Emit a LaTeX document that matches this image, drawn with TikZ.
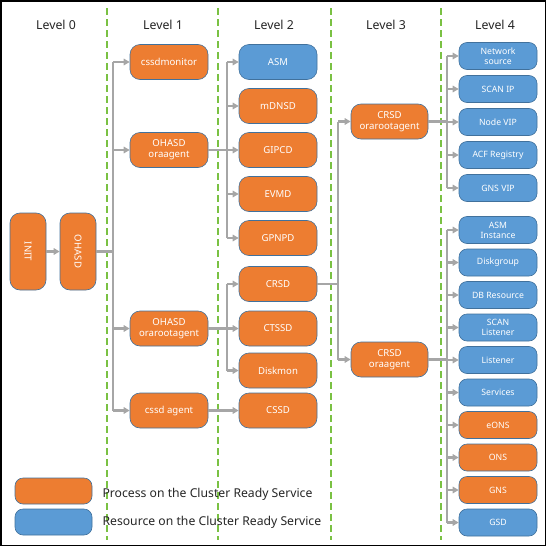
\documentclass[tikz,border=0pt]{standalone}
\usepackage{fontspec}
\setmainfont{Noto Sans}
\usetikzlibrary{arrows.meta}
\definecolor{orng}{HTML}{ED7D31}
\definecolor{blu}{HTML}{5B9BD5}
\definecolor{edgec}{HTML}{41719C}
\definecolor{connc}{HTML}{A6A6A6}
\definecolor{grn}{HTML}{7AC143}
\begin{document}
\begin{tikzpicture}[x=1pt,y=-1pt,
 box/.style={draw=edgec, line width=0.6pt, rounded corners=10pt, text=white, align=center, inner sep=1pt, font=\fontsize{9.6}{11}\selectfont},
 proc/.style={box, fill=orng},
 res/.style={box, fill=blu},
 lz/.style={minimum width=36pt, minimum height=77pt},
 lm/.style={minimum width=78pt, minimum height=35pt},
 lf/.style={minimum width=78pt, minimum height=27pt, rounded corners=8pt, font=\fontsize{8.7}{10}\selectfont},
 conline/.style={draw=connc, line width=2.2pt},
 arr/.style={conline, -{Triangle[length=6pt,width=6.5pt]}},
 sepline/.style={draw=grn, line width=2.2pt, dash pattern=on 7pt off 4pt},
 hdr/.style={font=\fontsize{12.3}{14}\selectfont, text=black!85},
 legtext/.style={anchor=west, font=\fontsize{12.2}{14}\selectfont, text=black!85}
]
\useasboundingbox (0,0) rectangle (546,546);
\draw[black, line width=1.5pt] (0.75,0.75) rectangle (545.25,545.25);

% separators
\foreach \x in {107,218,331,441} \draw[sepline] (\x,8) -- (\x,540);

% headers
\node[hdr] (h0) at (56,25) {Level 0};
\node[hdr] (h1) at (163,25) {Level 1};
\node[hdr] (h2) at (274,25) {Level 2};
\node[hdr] (h3) at (386,25) {Level 3};
\node[hdr] (h4) at (495,25) {Level 4};

% level 0
\node[proc, lz] (init) at (28,251.5) {};
\node[text=white, rotate=-90, font=\fontsize{9.6}{11}\selectfont] (initt) at (init) {INIT};
\node[proc, lz] (ohasd) at (78,251.5) {};
\node[text=white, rotate=-90, font=\fontsize{9.6}{11}\selectfont] (ohasdt) at (ohasd) {OHASD};

% level 1
\node[proc, lm] (cssdmon) at (169,62) {cssdmonitor};
\node[proc, lm] (ohora) at (169,150) {OHASD\\oraagent};
\node[proc, lm] (ohroot) at (169,328.5) {OHASD\\orarootagent};
\node[proc, lm] (cssdag) at (169,410.5) {cssd agent};

% level 2
\node[res, lm] (asm) at (278,62) {ASM};
\node[proc, lm] (mdnsd) at (278,106) {mDNSD};
\node[proc, lm] (gipcd) at (278,150) {GIPCD};
\node[proc, lm] (evmd) at (278,194) {EVMD};
\node[proc, lm] (gpnpd) at (278,238) {GPNPD};
\node[proc, lm] (crsd) at (278,284) {CRSD};
\node[proc, lm] (ctssd) at (278,328.5) {CTSSD};
\node[proc, lm] (diskmon) at (278,370.5) {Diskmon};
\node[proc, lm] (cssd) at (278,410.5) {CSSD};

% level 3
\node[proc, lm, minimum width=77pt] (crsdroot) at (389.5,121.5) {CRSD\\orarootagent};
\node[proc, lm, minimum width=77pt] (crsdora) at (389.5,359.5) {CRSD\\oraagent};

% level 4
\node[res, lf] (netsrc) at (498,56) {Network\\source};
\node[res, lf] (scanip) at (498,89) {SCAN IP};
\node[res, lf] (nodevip) at (498,122) {Node VIP};
\node[res, lf] (acf) at (498,155) {ACF Registry};
\node[res, lf] (gnsvip) at (498,188) {GNS VIP};
\node[res, lf] (asmins) at (498,230) {ASM\\Instance};
\node[res, lf] (dgrp) at (498,262.5) {Diskgroup};
\node[res, lf] (dbres) at (498,295) {DB Resource};
\node[res, lf] (scanl) at (498,327.5) {SCAN\\Listener};
\node[res, lf] (lsnr) at (498,360) {Listener};
\node[res, lf] (serv) at (498,392.5) {Services};
\node[proc, lf] (eons) at (498,425) {eONS};
\node[proc, lf] (ons) at (498,457.5) {ONS};
\node[proc, lf] (gns) at (498,490) {GNS};
\node[res, lf] (gsd) at (498,522.5) {GSD};

% trunks
\coordinate (t1) at (113,0);
\coordinate (t2) at (227,0);
\coordinate (t3) at (338,0);
\coordinate (t4) at (447,0);

% level 0 -> 1
\draw[arr] (init.east) -- (ohasd.west);
\draw[conline] (ohasd.east) -- (t1 |- ohasd);
\draw[conline] (t1 |- cssdmon) -- (t1 |- cssdag);
\foreach \n in {cssdmon,ohora,ohroot,cssdag} \draw[arr] (t1 |- \n) -- (\n.west);

% level 1 -> 2
\draw[conline] (ohora.east) -- (t2 |- ohora);
\draw[conline] (t2 |- asm) -- (t2 |- gpnpd);
\foreach \n in {asm,mdnsd,gipcd,evmd,gpnpd} \draw[arr] (t2 |- \n) -- (\n.west);
\draw[conline] (ohroot.east) -- (t2 |- ohroot);
\draw[conline] (t2 |- crsd) -- (t2 |- diskmon);
\foreach \n in {crsd,ctssd,diskmon} \draw[arr] (t2 |- \n) -- (\n.west);
\draw[arr] (cssdag.east) -- (cssd.west);

% level 2 -> 3
\draw[conline] (crsd.east) -- (t3 |- crsd);
\draw[conline] (t3 |- crsdroot) -- (t3 |- crsdora);
\foreach \n in {crsdroot,crsdora} \draw[arr] (t3 |- \n) -- (\n.west);

% level 3 -> 4
\draw[conline] (crsdroot.east) -- (t4 |- crsdroot);
\draw[conline] (t4 |- netsrc) -- (t4 |- gnsvip);
\foreach \n in {netsrc,scanip,nodevip,acf,gnsvip} \draw[arr] (t4 |- \n) -- (\n.west);
\draw[conline] (crsdora.east) -- (t4 |- crsdora);
\draw[conline] (t4 |- asmins) -- (t4 |- gsd);
\foreach \n in {asmins,dgrp,dbres,scanl,lsnr,serv,eons,ons,gns,gsd} \draw[arr] (t4 |- \n) -- (\n.west);

% legend
\node[proc, minimum width=77pt, minimum height=26pt, rounded corners=8pt] (legp) at (53.5,491) {};
\node[res, minimum width=77pt, minimum height=26pt, rounded corners=8pt] (legr) at (53.5,522) {};
\node[legtext] (legpt) at (99,494) {Process on the Cluster Ready Service};
\node[legtext] (legrt) at (99,522) {Resource on the Cluster Ready Service};
\end{tikzpicture}
\end{document}
